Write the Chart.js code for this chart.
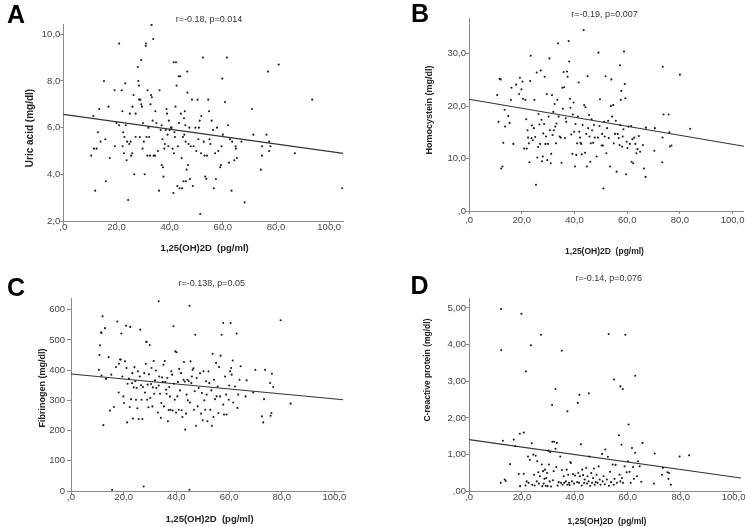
<!DOCTYPE html>
<html><head><meta charset="utf-8">
<script src="https://cdn.jsdelivr.net/npm/chart.js@4.4.0/dist/chart.umd.min.js"></script>
<style>
html,body{margin:0;padding:0;background:#fff;}
#wrap{position:relative;width:745px;height:527px;overflow:hidden;font-family:"Liberation Sans",Arial,sans-serif;}
canvas{position:absolute;left:0;top:0;}
.lbl{position:absolute;white-space:pre;color:#222;line-height:1;}
.panel{font-weight:bold;font-size:25px;color:#000;}
.stat{color:#333;transform:translate(-50%,-50%);}
.xt{font-weight:bold;transform:translate(-50%,-50%);}
.yt{font-weight:bold;transform:translate(-50%,-50%) rotate(-90deg);}
</style></head>
<body><div id="wrap">
<canvas id="cA" width="745" height="527"></canvas>
<canvas id="cB" width="745" height="527"></canvas>
<canvas id="cC" width="745" height="527"></canvas>
<canvas id="cD" width="745" height="527"></canvas>
<div class="lbl panel" style="left:7px;top:1.7px">A</div>
<div class="lbl panel" style="left:411px;top:0.7px">B</div>
<div class="lbl panel" style="left:7px;top:274.7px">C</div>
<div class="lbl panel" style="left:410.5px;top:272.7px">D</div>
<div class="lbl stat" style="left:209px;top:19px;font-size:9px">r=-0.18, p=0.014</div>
<div class="lbl stat" style="left:604.5px;top:13.5px;font-size:9px">r=-0.19, p=0.007</div>
<div class="lbl stat" style="left:211.7px;top:283.3px;font-size:9px">r=-0.138, p=0.05</div>
<div class="lbl stat" style="left:608.7px;top:278.3px;font-size:9px">r=-0.14, p=0.076</div>
<div class="lbl yt" style="left:29.7px;top:128.3px;font-size:10px">Uric acid (mg/dl)</div>
<div class="lbl yt" style="left:429px;top:109.5px;font-size:9px">Homocystein (mg/dl)</div>
<div class="lbl yt" style="left:42.2px;top:388px;font-size:9px">Fibrinogen (mg/dl)</div>
<div class="lbl yt" style="left:427px;top:370px;font-size:8.5px">C-reactive protein (mg/dl)</div>
<div class="lbl xt" style="left:204.7px;top:248px;font-size:9.5px">1,25(OH)2D  (pg/ml)</div>
<div class="lbl xt" style="left:604.5px;top:250.8px;font-size:8.5px">1,25(OH)2D  (pg/ml)</div>
<div class="lbl xt" style="left:209.5px;top:519.3px;font-size:9.5px">1,25(OH)2D  (pg/ml)</div>
<div class="lbl xt" style="left:607px;top:520.8px;font-size:8.5px">1,25(OH)2D  (pg/ml)</div>
</div>
<script>
// ---- tick labels ----
const xTickValues = [0, 20, 40, 60, 80, 100];
const xTickLabels = [",0", "20,0", "40,0", "60,0", "80,0", "100,0"];
const yTickValuesA = [2, 4, 6, 8, 10];
const yTickLabelsA = ["2,0", "4,0", "6,0", "8,0", "10,0"];
const yTickValuesB = [0, 10, 20, 30];
const yTickLabelsB = [",0", "10,0", "20,0", "30,0"];
const yTickValuesC = [0, 100, 200, 300, 400, 500, 600];
const yTickLabelsC = ["0", "100", "200", "300", "400", "500", "600"];
const yTickValuesD = [0, 1, 2, 3, 4, 5];
const yTickLabelsD = [",00", "1,00", "2,00", "3,00", "4,00", "5,00"];

// ---- A: Uric acid ----
const xA = [10.5,11.5,12.5,11.3,12,13,13.5,14,15.3,15.8,16,17,17.5,19.3,19.4,20,21,21,22,22.2,22.3,22.5,22.8,23,23.3,23.5,23.8,24.4,24,24.8,25,25.3,25.5,25.9,26,26.4,26.7,27.2,27.2,28,28.2,28.5,28.5,28.8,29,29.3,29.3,29.6,29.8,30,30.3,30.6,31,31.1,31.3,31.6,31.7,32,32.3,32.6,32.8,33,33.2,33.3,33.6,33.8,34,34.5,34.6,35,35.6,36,36.2,36.6,37,37,37.3,37.5,37.7,38,38.2,38.5,38.8,39,39.2,39.5,39.7,40,40.5,40.7,41.1,41.4,41.5,41.6,41.8,42,42.2,42.4,42.6,42.9,43.1,43.4,43.5,43.7,44,44.2,44.5,44.7,45,45.2,45.4,45.5,45.7,45.9,46,46.1,46.4,46.6,46.7,46.9,47.1,47.4,47.6,47.9,48.4,48.7,49,49.7,50,50.5,50.8,51,51.3,51.5,51.8,51.9,52.5,52.8,53.1,53.4,53.8,54,54.5,54.8,55,55.3,55.8,56.3,56.6,57.1,57.4,57.8,58.3,59,59.3,59.5,59.8,60,60.8,61.5,62,62.3,62.7,63.3,63.5,64.3,64.8,65.3,64.9,67,68.2,71,71.5,74.3,74.7,74.7,76.4,77,77.4,77.4,77.9,81,87.1,93.6,104.9];
const yA = [4.8,5.1,5.1,6.5,3.3,5.8,6.8,5.4,8.0,5.5,3.7,6.9,4.7,7.6,5.2,6.2,9.6,6.1,7.6,6.7,5.2,5.8,4.9,5.6,7.9,6.1,4.6,2.9,5.4,5.3,6.6,5.4,4.8,4.9,6.9,7.4,4.0,6.6,5.6,8.6,8.0,7.8,7.2,5.6,7.2,8.9,7.0,6.9,5.1,6.2,5.4,4.0,9.5,9.6,5.6,4.8,7.6,6.0,5.6,4.8,7.0,7.4,10.4,7.3,6.3,9.8,4.8,4.8,6.7,6.2,5.0,3.3,7.6,5.9,6.1,4.4,5.5,4.3,3.9,5.1,5.3,5.9,6.8,6.6,5.7,5.2,6.3,5.9,6.0,6.0,5.1,3.2,8.8,4.9,5.8,5.6,6.9,8.8,7.8,3.5,5.2,8.2,6.2,3.4,8.2,6.6,4.7,3.4,5.6,3.7,6.4,5.7,6.7,6.1,5.4,3.7,4.2,8.4,7.5,4.4,5.3,6.0,3.8,5.2,7.2,3.5,5.2,6.0,5.0,7.2,5.5,6.0,6.3,2.3,4.9,6.5,9.0,5.4,4.8,3.9,3.8,4.8,7.2,6.7,5.5,5.3,6.3,5.9,3.4,4.9,3.8,6.0,5.0,4.3,4.4,5.2,8.1,5.7,7.1,9.0,6.1,4.5,5.5,3.3,5.4,4.6,5.2,4.7,5.1,5.4,2.8,6.8,5.7,4.2,4.8,5.2,5.7,8.4,5.4,5.0,5.2,8.7,4.9,7.2,3.4];
const fitA = [6.57, -0.0159]; // intercept, slope

// ---- B: Homocystein ----
const xB = [10.7,11.2,11.6,12,12.2,12.7,13,13.5,13.7,14.9,15.4,15.9,16.1,16.8,17.9,19,19.3,19.9,20.3,20.5,20.9,21.4,21.7,21.9,22.2,22.4,22.7,22.9,23.2,23.4,23.7,23.9,24.2,24.6,24.8,25.1,25.4,25.7,25.9,26.2,26.4,26.7,27,27.2,27.5,27.7,28,28.2,28.5,28.7,29,29.2,29.5,29.7,30,30.2,30.5,30.7,31,31.2,31.5,31.7,32,32.2,32.5,32.7,33,33.2,33.5,33.8,34,34.4,34.8,35.1,35.4,35.6,35.9,36.1,36.4,36.7,36.9,37.2,37.4,37.8,38,38.3,38.5,38.8,39.2,39.4,39.7,39.9,40.2,40.4,40.7,41,41.3,41.6,41.8,42.1,42.3,42.6,42.8,43.1,43.5,43.7,44,44.2,44.5,44.7,45,45.2,45.5,45.7,46,46.2,46.5,46.7,47.1,47.4,47.7,48.4,48.9,49.1,49.5,49.7,50.3,50.5,50.8,51,51.3,51.5,51.8,52.1,52.4,52.8,53,53.5,53.8,54,54.3,54.7,54.9,55.4,55.7,56,56.4,56.8,57.1,57.3,57.4,57.6,57.8,58.1,58.3,58.6,58.8,59.1,59.3,59.6,59.8,60.1,60.5,61,61.5,61.7,62,62.3,62.7,63.1,63.5,63.9,64.4,64.9,66,66.4,67,67.1,70.3,70.5,73.3,73.4,73.5,73.8,75.7,76,76.2,76.8,80,83.9];
const yB = [22.1,17.0,25.2,25.1,8.1,8.5,13.0,19.3,16.1,18.1,16.8,21.2,23.5,12.8,24.1,22.3,25.4,23.2,24.7,21.4,11.9,21.2,17.5,11.9,15.4,14.0,12.9,9.3,24.8,29.6,13.9,16.3,13.5,15.8,21.2,14.1,5.0,26.4,10.2,12.2,18.5,16.5,12.8,26.8,17.4,9.5,10.4,14.8,16.6,25.6,12.8,14.2,22.3,9.7,12.8,18.0,29.1,15.4,9.1,10.9,22.1,14.5,18.9,15.4,20.4,16.1,12.9,16.7,21.2,32.0,18.0,14.2,14.0,9.2,23.5,19.5,26.5,23.6,13.9,17.7,17.0,26.6,25.6,32.4,28.5,21.4,19.7,14.6,10.9,18.4,20.7,15.1,8.5,16.6,10.7,12.9,18.0,24.5,15.1,14.0,13.0,12.8,10.8,16.4,34.5,20.2,11.1,19.8,14.7,8.5,25.7,15.8,18.3,14.2,9.4,12.9,17.5,15.4,13.0,16.4,14.0,10.4,14.0,30.2,16.2,21.3,12.5,14.7,12.5,4.3,17.0,14.2,25.7,11.0,15.8,17.2,13.9,8.5,20.0,25.1,18.0,20.2,12.9,14.7,17.2,7.5,14.7,13.9,12.6,27.8,16.4,21.2,22.9,12.3,14.2,15.6,30.4,24.2,21.5,7.0,13.2,12.0,16.1,12.8,16.2,9.4,13.7,9.1,14.0,12.8,11.0,11.8,14.3,11.3,12.6,8.1,6.5,15.9,11.5,15.8,9.3,14.0,27.5,18.4,18.4,15.0,12.3,12.5,26.0,15.7];
const fitB = [21.3, -0.0857];

// ---- C: Fibrinogen ----
const xC = [10.6,10.8,11,11.4,11.6,11.6,12,12.3,12.9,13.3,14.3,14.8,15.3,15.6,16.3,17.1,17.6,18.1,18.2,18.6,18.9,19.1,19.5,19.9,20.1,20.5,20.9,21.1,21.3,21.5,22,22.3,22.5,22.8,23.2,23.3,23.5,23.8,24.1,24.4,24.7,24.9,25.2,25.4,25.7,26.1,26.3,26.6,26.8,27.1,27.3,27.6,27.8,28.1,28.4,28.6,28.7,28.9,29.1,29.4,29.6,29.9,30.1,30.4,30.6,30.9,31.1,31.4,31.6,31.9,32.2,32.4,33.3,33,33.3,33.5,33.8,34.1,34.3,34.6,34.8,35.1,35.3,35.6,35.8,36.1,36.3,36.6,36.8,37.1,37.3,37.6,37.8,38.1,38.4,38.6,38.9,39.1,39.4,39.6,39.9,40.1,40.4,40.6,40.9,41.1,41.4,41.8,42,42.3,42.7,42.9,43.2,43.4,43.7,43.9,44.2,44.4,44.7,45,45,45.2,45.4,45.7,45.9,46.2,46.5,46.7,47,47.2,47.5,47.7,48.1,48.5,49,49.4,49.7,50,50.3,50.6,51,51.3,51.5,51.8,52.2,52.5,52.9,53.3,53.5,53.8,54.1,54.3,54.7,55.1,55.3,55.7,56,56.2,56.6,56.8,57.2,57.8,57.8,58.1,58.5,58.9,59.1,60.6,59.9,60.1,60.4,60.8,61,61.4,61.6,62.3,62.9,63.2,63.5,64,64.4,66.3,66.7,69.2,70,72.5,73,73.3,73.7,75.6,75.8,76.1,76.3,76.8,79.6,83.4];
const yC = [401,450,482,525,523,382,578,218,539,371,443,266,385,4,278,410,561,326,421,435,435,521,379,313,291,429,547,407,227,355,372,278,543,304,357,390,240,343,410,363,302,341,274,396,238,379,534,350,302,238,344,15,390,326,421,494,493,302,352,277,386,483,308,354,407,280,343,430,322,366,399,341,628,260,349,379,322,242,291,376,361,418,280,430,361,335,322,374,231,268,344,313,269,396,385,266,545,355,302,462,260,459,313,361,269,404,333,390,267,245,368,427,362,203,256,319,368,300,363,613,4,293,429,357,379,401,406,269,330,517,216,374,280,341,390,256,324,234,396,300,269,363,319,231,396,357,269,333,216,454,245,368,304,424,313,346,258,410,313,448,517,556,286,253,379,319,253,556,302,349,396,407,385,432,293,346,521,275,319,368,413,313,366,326,401,247,227,304,401,357,249,258,388,344,565,289];
const fitC = [387, -0.822];

// ---- D: C-reactive protein ----
const xD = [12.1,12.2,12,12.8,13.5,13.9,15.5,16.9,17.5,18.8,19.2,19.3,19.8,20.7,20.7,21.3,21.5,21.8,22.3,22.5,23,23.4,23.7,23.9,24.3,24.6,24.8,25.2,25.6,25.8,26.2,26.4,26.8,27.2,27.5,27.7,28,28.2,28.5,28.7,29,29.2,29.5,29.7,30,30.2,30.5,30.7,31,31.4,31.5,31.7,32,32.2,32.7,32.7,33,33.2,33.5,33.9,35.1,34.5,34.8,35.1,35.4,35.8,36,37.2,36.6,36.9,37.2,37.5,37.8,38,38.3,38.5,38.9,39.3,39.7,40.1,41.1,41.7,40.9,41.3,41.6,41.9,42.3,42.6,42.8,43.1,43.5,43.7,45.3,44.3,44.6,44.8,45.2,45.5,45.8,46.2,46.5,46.9,47.2,47.5,47.9,48.2,48.6,49,49.4,49.7,50.3,50.5,50.9,51.3,51.5,52.8,52.1,52.5,52.9,53.3,53.7,54.8,54.3,54.7,55,55.4,56.7,55.9,57.2,58.1,56.9,57.2,57.6,57.8,58.2,59.1,58.8,60.3,59.6,60.1,62.8,60.7,61.1,61.6,62,62.3,62.8,63.5,63.9,64.5,65.1,65.6,70.2,69.9,72.9,73.3,75,75.4,75.6,76.3,79.6,83.2];
const yD = [4.97,3.85,0.23,1.38,0.32,0.28,0.74,1.41,1.23,0.47,1.57,0.14,4.84,1.6,0.48,0.16,3.27,0.27,0.95,0.23,0.86,3.98,1.31,0.18,1.0,0.45,0.16,0.97,0.27,0.82,0.52,0.21,0.41,4.27,0.73,0.14,0.55,0.21,0.34,0.59,0.15,0.36,0.5,0.14,1.11,0.73,0.27,1.07,0.13,2.35,1.35,0.3,0.55,1.35,2.79,1.16,0.66,1.32,0.16,0.25,3.83,0.95,0.23,0.58,0.18,0.41,0.23,2.18,0.27,0.59,0.18,0.45,0.23,0.17,0.8,0.77,0.27,0.47,0.21,0.43,2.41,2.63,0.25,0.5,0.23,0.41,1.28,0.16,0.59,0.44,0.23,0.32,2.67,0.64,0.21,0.41,0.27,0.95,0.15,0.5,0.23,0.36,0.62,0.18,0.25,0.45,0.23,0.68,0.32,0.18,1.02,0.27,0.41,0.19,1.14,4.29,0.32,0.94,0.15,0.53,0.25,3.05,0.73,0.18,0.34,0.72,1.53,0.23,2.86,2.79,0.45,0.27,1.27,0.36,0.23,4.27,0.68,1.82,0.52,0.82,3.15,0.53,0.23,1.18,0.66,0.34,1.05,0.41,0.82,0.68,0.26,1.32,1.03,0.21,0.45,0.64,0.52,0.34,0.5,0.18,0.95,0.98];
const fitD = [1.41, -0.0102];

const FONT = '"Liberation Sans", Arial, sans-serif';
const CW = 745, CH = 527;

function lookup(vals, labs) {
  return function (v) {
    for (let i = 0; i < vals.length; i++) if (Math.abs(vals[i] - v) < 1e-6) return labs[i];
    return '';
  };
}

function makePanel(id, xs, ys, fit, yVals, yLabs, L) {
  const pts = xs.map((x, i) => ({ x: x, y: ys[i] }));
  const line = [{ x: 0, y: fit[0] }, { x: L.xMax, y: fit[0] + fit[1] * L.xMax }];
  const Wy = 30, Hx = 20;
  new Chart(document.getElementById(id), {
    type: 'scatter',
    data: { datasets: [
      { data: pts, pointRadius: 1.05, pointHoverRadius: 1.05, pointBackgroundColor: '#1c1c1c', pointBorderWidth: 0 },
      { data: line, showLine: true, borderColor: '#333', borderWidth: 1.1, pointRadius: 0, pointHoverRadius: 0, fill: false }
    ] },
    options: {
      responsive: false, animation: false, events: [],
      layout: { padding: { left: L.x0 - Wy, right: CW - L.x1, top: L.y0, bottom: CH - L.y1 - Hx } },
      plugins: { legend: { display: false }, tooltip: { enabled: false }, title: { display: false } },
      scales: {
        x: {
          type: 'linear', min: 0, max: L.xMax,
          afterFit: function (s) { s.height = Hx; },
          ticks: { stepSize: 20, includeBounds: false, autoSkip: false, maxRotation: 0, padding: L.xPad, color: '#444',
                   font: { family: FONT, size: 9.5 }, callback: lookup(xTickValues, xTickLabels) },
          grid: { drawOnChartArea: false, drawTicks: true, tickLength: 3, color: '#8a8a8a' },
          border: { display: true, color: '#8a8a8a', width: 1 }
        },
        y: {
          type: 'linear', min: L.yMin, max: L.yMax,
          afterFit: function (s) { s.width = Wy; },
          ticks: { stepSize: L.yStep, includeBounds: false, autoSkip: false, padding: L.yPad, color: '#444',
                   font: { family: FONT, size: 9.5 }, callback: lookup(yVals, yLabs) },
          grid: { drawOnChartArea: false, drawTicks: true, tickLength: L.yTick, color: '#8a8a8a' },
          border: { display: true, color: '#8a8a8a', width: 1 }
        }
      }
    }
  });
}

makePanel('cA', xA, yA, fitA, yTickValuesA, yTickLabelsA,
  { x0: 63.3, x1: 343.3, y0: 24, y1: 221, xMax: 105.3, yMin: 2, yMax: 10.44, yStep: 2, xPad: -2.2, yPad: 0, yTick: 3 });
makePanel('cB', xB, yB, fitB, yTickValuesB, yTickLabelsB,
  { x0: 469, x1: 745, y0: 18.3, y1: 211, xMax: 104.3, yMin: 0, yMax: 36.75, yStep: 10, xPad: 0.3, yPad: 0, yTick: 3 });
makePanel('cC', xC, yC, fitC, yTickValuesC, yTickLabelsC,
  { x0: 71, x1: 343.3, y0: 298, y1: 491, xMax: 103.4, yMin: 0, yMax: 638.7, yStep: 100, xPad: -2.7, yPad: 2, yTick: 4 });
makePanel('cD', xD, yD, fitD, yTickValuesD, yTickLabelsD,
  { x0: 469, x1: 741, y0: 298, y1: 491.3, xMax: 102.8, yMin: 0, yMax: 5.27, yStep: 1, xPad: -2.2, yPad: 0, yTick: 3 });
</script>
</body></html>
